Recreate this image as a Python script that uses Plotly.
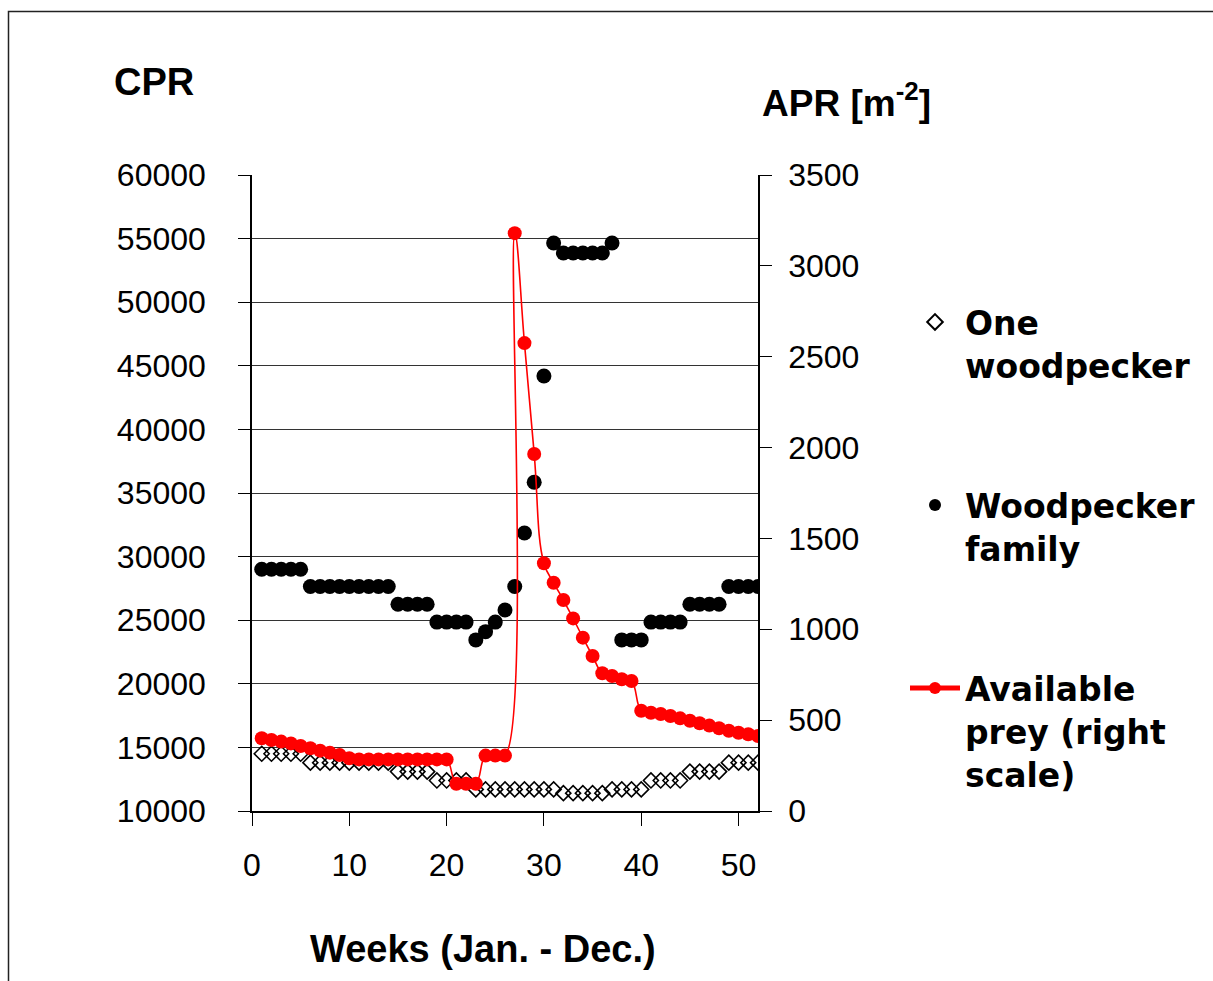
import plotly.graph_objects as go

weeks = list(range(1, 53))
one_woodpecker = ([14500] * 5 + [13800] * 9 + [13100] * 4 + [12400] * 4 + [11700] * 9
                  + [11400] * 5 + [11700] * 4 + [12400] * 4 + [13100] * 4 + [13800] * 4)
woodpecker_family = ([29000] * 5 + [27650] * 9 + [26250] * 4 + [24850] * 4
                     + [23450, 24100, 24850, 25800, 27650, 31850, 35850, 44200, 54650]
                     + [53870] * 5 + [54650] + [23450] * 3 + [24850] * 4 + [26250] * 4 + [27650] * 4)
available_prey = ([400, 391, 382, 372, 358, 345, 332, 321, 308, 290] + [284] * 10 + [150] * 3 + [305] * 3
                  + [3180, 2575, 1965, 1363, 1256, 1161, 1060, 954, 853, 758, 743, 725, 715,
                     552, 541, 534, 523, 510, 497, 483, 470, 455, 442, 431, 422, 413])

left_ticks = list(range(10000, 60001, 5000))
left_tick_labels = [str(v) for v in left_ticks]
right_ticks = list(range(0, 3501, 500))
right_tick_labels = [str(v) for v in right_ticks]
x_ticks = [0, 10, 20, 30, 40, 50]
x_tick_labels = [str(v) for v in x_ticks]

TICK_FONT = dict(family="Liberation Sans, Arial, sans-serif", size=32, color="black")
LEG_FONT = dict(family="DejaVu Sans, sans-serif", size=33, color="black")
TITLE_FONT = dict(family="Liberation Sans, Arial, sans-serif", size=38, color="black")

fig = go.Figure()
fig.add_trace(go.Scatter(
    x=weeks, y=one_woodpecker, mode="markers", name="<b>One<br>woodpecker</b>",
    marker=dict(symbol="diamond-open", size=11.5, color="black", line=dict(width=1.6, color="black")),
    legend="legend", yaxis="y"))
fig.add_trace(go.Scatter(
    x=weeks, y=woodpecker_family, mode="markers", name="<b>Woodpecker<br>family</b>",
    marker=dict(symbol="circle", size=15, color="black"),
    legend="legend2", yaxis="y"))
fig.add_trace(go.Scatter(
    x=weeks, y=available_prey, mode="lines+markers", name="<b>Available<br>prey (right<br>scale)</b>",
    line=dict(color="#ff0000", width=1.6, shape="spline", smoothing=1.2),
    marker=dict(symbol="circle", size=14, color="#ff0000"),
    legend="legend3", yaxis="y2"))

W, H = 1213, 981
L, R, T, B = 252, 758, 175, 811
pw, ph = R - L, B - T

def px(x):
    return (x - L) / pw

def py(y):
    return (B - y) / ph

legend_common = dict(font=LEG_FONT, bgcolor="rgba(0,0,0,0)", borderwidth=0,
                     itemsizing="constant", itemwidth=50, valign="top",
                     xanchor="left", yanchor="top")

fig.update_layout(
    width=W, height=H, autosize=False,
    margin=dict(l=L, r=W - R, t=T, b=H - B, pad=0),
    paper_bgcolor="white", plot_bgcolor="white",
    showlegend=True,
    legend=dict(x=px(905), y=py(294), **legend_common),
    legend2=dict(x=px(905), y=py(477), **legend_common),
    legend3=dict(x=px(905), y=py(660), **legend_common),
    xaxis=dict(range=[0, 52], tickvals=x_ticks, ticktext=x_tick_labels, ticks="outside",
               ticklen=13, tickwidth=1, tickcolor="black", showline=True, linecolor="black",
               linewidth=1.5, showgrid=False, zeroline=False, tickfont=TICK_FONT,
               ticklabelstandoff=12),
    yaxis=dict(range=[10000, 60000], tickvals=left_ticks, ticktext=left_tick_labels,
               ticks="outside", ticklen=12, tickcolor="black", showline=True, linecolor="black",
               linewidth=1.5, showgrid=True, gridcolor="#333333", gridwidth=1, zeroline=False,
               tickfont=TICK_FONT, ticklabelstandoff=26),
    yaxis2=dict(range=[0, 3500], tickvals=right_ticks, ticktext=right_tick_labels,
                overlaying="y", side="right", ticks="outside", ticklen=12, tickcolor="black",
                showline=True, linecolor="black", linewidth=1.5, showgrid=False, zeroline=False,
                tickfont=TICK_FONT, ticklabelstandoff=10),
    yaxis3=dict(range=[0, 3500], tickvals=right_ticks, overlaying="y", side="right",
                ticks="inside", ticklen=11, tickcolor="black", showline=False,
                showgrid=False, zeroline=False, showticklabels=False),
    shapes=[dict(type="rect", xref="paper", yref="paper",
                 x0=px(8.5), x1=px(1230), y0=py(1000), y1=py(11.5),
                 line=dict(color="#222222", width=1.5), fillcolor="rgba(0,0,0,0)", layer="below")],
    annotations=[
        dict(text="<b>CPR</b>", xref="paper", yref="paper", x=px(112), y=py(82),
             xanchor="left", yanchor="middle", showarrow=False, font=TITLE_FONT),
        dict(text="<b>APR [m<sup>-2</sup>]</b>", xref="paper", yref="paper", x=px(760), y=py(101),
             xanchor="left", yanchor="middle", showarrow=False,
             font=dict(family="Liberation Sans, Arial, sans-serif", size=37, color="black")),
        dict(text="<b>Weeks (Jan. - Dec.)</b>", xref="paper", yref="paper", x=px(483), y=py(949),
             xanchor="center", yanchor="middle", showarrow=False, font=TITLE_FONT),
    ],
)

fig.write_html("out.html")
